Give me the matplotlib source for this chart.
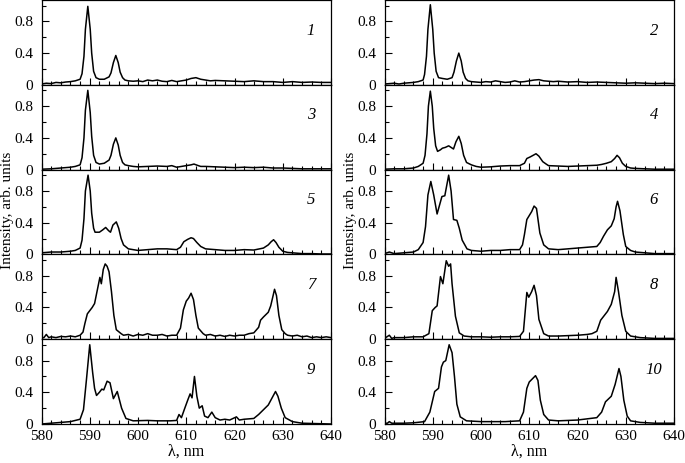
import numpy as np
import matplotlib.pyplot as plt
from matplotlib.ticker import MultipleLocator

plt.rcParams['font.family'] = ['Liberation Serif', 'DejaVu Serif']

# spectra: wavelength (nm) and intensity (arb. units)
x1 = [580, 581, 582, 583, 584, 585, 586, 587, 588, 588.4, 588.8, 589.1, 589.6, 590.1, 590.4, 590.8, 591.3, 592, 593, 594,
      594.4, 594.9, 595.4, 595.9, 596.3, 596.8, 597.3, 598, 599, 600, 601, 602, 603, 604, 605, 606, 607, 608, 609, 610, 611,
      612, 613, 614, 615, 616, 618, 620, 622, 624, 626, 628, 630, 632, 634, 636, 638, 640]
y1 = [0.01, 0.02, 0.015, 0.03, 0.025, 0.035, 0.04, 0.05, 0.07, 0.14, 0.36, 0.7, 0.99, 0.7, 0.4, 0.17, 0.09, 0.07, 0.07, 0.10,
      0.15, 0.28, 0.37, 0.28, 0.16, 0.09, 0.06, 0.05, 0.045, 0.05, 0.04, 0.06, 0.05, 0.06, 0.045, 0.04, 0.055, 0.04, 0.05, 0.06,
      0.08, 0.09, 0.07, 0.06, 0.05, 0.055, 0.05, 0.045, 0.04, 0.05, 0.04, 0.04, 0.03, 0.04, 0.03, 0.035, 0.03, 0.03]

x2 = [580, 581, 582, 583, 584, 585, 586, 587, 588, 588.3, 588.7, 589.0, 589.5, 590.0, 590.3, 590.7, 591.2, 592, 593, 594,
      594.4, 594.9, 595.4, 595.9, 596.3, 596.8, 597.3, 598, 599, 600, 601, 602, 603, 604, 605, 606, 607, 608, 609, 610, 611,
      612, 613, 614, 615, 616, 618, 620, 622, 624, 626, 628, 630, 632, 634, 636, 638, 640]
y2 = [0.01, 0.015, 0.02, 0.01, 0.02, 0.025, 0.03, 0.04, 0.06, 0.13, 0.36, 0.7, 1.01, 0.7, 0.4, 0.17, 0.09, 0.08, 0.07, 0.09,
      0.16, 0.30, 0.40, 0.30, 0.16, 0.08, 0.05, 0.04, 0.035, 0.03, 0.04, 0.035, 0.05, 0.04, 0.03, 0.035, 0.05, 0.035, 0.04, 0.05,
      0.06, 0.065, 0.05, 0.045, 0.04, 0.045, 0.035, 0.04, 0.03, 0.035, 0.03, 0.025, 0.02, 0.025, 0.02, 0.015, 0.02, 0.015]

x3 = [580, 582, 584, 586, 587, 588, 588.4, 588.8, 589.1, 589.6, 590.1, 590.4, 590.8, 591.3, 592, 593, 594,
      594.4, 594.9, 595.4, 595.9, 596.3, 596.8, 597.3, 598, 599, 600, 602, 604, 606, 607, 608, 609, 610, 611, 611.6, 612.5,
      613, 614, 616, 618, 620, 622, 624, 626, 628, 630, 632, 634, 636, 638, 640]
y3 = [0.005, 0.01, 0.02, 0.03, 0.04, 0.06, 0.15, 0.4, 0.75, 1.0, 0.72, 0.42, 0.18, 0.09, 0.07, 0.08, 0.12,
      0.18, 0.32, 0.40, 0.31, 0.18, 0.09, 0.06, 0.05, 0.04, 0.035, 0.04, 0.045, 0.04, 0.05, 0.03, 0.04, 0.05, 0.06, 0.07, 0.05,
      0.04, 0.04, 0.035, 0.03, 0.025, 0.03, 0.025, 0.03, 0.02, 0.02, 0.015, 0.01, 0.01, 0.01, 0.01]

x4 = [580, 582, 584, 586, 587, 588, 588.4, 588.8, 589.1, 589.5, 589.9, 590.2, 590.6, 591, 591.6, 592, 592.6, 593.3, 593.8,
      594.3, 594.8, 595.4, 595.9, 596.4, 597, 598, 599, 600, 602, 604, 606, 608, 609, 609.5, 610.2, 610.8, 611.4, 612, 612.8,
      613.5, 614, 616, 618, 620, 622, 624, 625, 626, 627, 627.7, 628.2, 628.7, 629.3, 630, 631, 632, 634, 636, 638, 640]
y4 = [0.005, 0.01, 0.01, 0.02, 0.04, 0.08, 0.18, 0.45, 0.8, 0.99, 0.8, 0.52, 0.3, 0.23, 0.25, 0.27, 0.28, 0.30, 0.28,
      0.26, 0.35, 0.42, 0.33, 0.18, 0.09, 0.06, 0.04, 0.03, 0.035, 0.045, 0.05, 0.05, 0.08, 0.14, 0.16, 0.18, 0.20, 0.17, 0.1,
      0.07, 0.05, 0.045, 0.04, 0.045, 0.05, 0.055, 0.065, 0.08, 0.1, 0.14, 0.18, 0.15, 0.08, 0.04, 0.02, 0.015, 0.01, 0.005,
      0.005, 0.005]

x5 = [580, 582, 584, 586, 587, 588, 588.4, 588.8, 589.1, 589.65, 590.1, 590.4, 590.8, 591.1, 592, 592.7, 593.3, 593.9, 594.3,
      594.8, 595.5, 596.0, 596.5, 597, 598, 600, 602, 604, 606, 608, 608.8, 609.5, 610.3, 611, 611.5, 612.2, 613, 614, 616,
      618, 620, 622, 624, 626, 627, 627.6, 628.1, 628.6, 629.2, 630, 631, 632, 634, 636, 638, 640]
y5 = [0.02, 0.03, 0.03, 0.04, 0.05, 0.08, 0.18, 0.45, 0.8, 1.0, 0.8, 0.52, 0.33, 0.28, 0.28, 0.31, 0.34, 0.30, 0.28,
      0.37, 0.41, 0.33, 0.2, 0.12, 0.07, 0.05, 0.06, 0.07, 0.07, 0.06, 0.09, 0.16, 0.19, 0.21, 0.20, 0.15, 0.10, 0.07, 0.06,
      0.05, 0.05, 0.06, 0.055, 0.08, 0.12, 0.16, 0.185, 0.15, 0.09, 0.04, 0.025, 0.02, 0.01, 0.01, 0.005, 0.005]

x6 = [580, 581, 582, 584, 586, 587, 588, 588.5, 589, 589.6, 590.2, 590.9, 591.4, 591.9, 592.5, 593.3, 593.8, 594.3,
      595.0, 595.5, 596.1, 597.1, 598, 600, 602, 604, 606, 608, 608.6, 609.0, 609.5, 610, 610.5, 611, 611.5, 612.2, 613,
      614, 616, 618, 620, 622, 624, 624.7, 625.4, 626.2, 627, 627.6, 628.0, 628.3, 628.8, 629.5, 630, 631, 632, 634, 636,
      638, 640]
y6 = [0.01, 0.03, 0.01, 0.02, 0.03, 0.06, 0.15, 0.35, 0.75, 0.92, 0.75, 0.51, 0.62, 0.73, 0.74, 1.0, 0.8, 0.44,
      0.43, 0.33, 0.18, 0.07, 0.05, 0.04, 0.05, 0.05, 0.06, 0.06, 0.12, 0.25, 0.44, 0.49, 0.54, 0.61, 0.58, 0.27, 0.12,
      0.07, 0.06, 0.07, 0.08, 0.09, 0.10, 0.15, 0.23, 0.31, 0.36, 0.45, 0.6, 0.67, 0.55, 0.25, 0.1, 0.05, 0.03, 0.02, 0.01,
      0.01, 0.01]

x7 = [580, 580.5, 581, 581.5, 582, 583, 584, 585, 586, 587, 588, 588.6, 589, 589.5, 590.0, 590.5, 591, 591.5, 592.1, 592.4,
      592.8, 593.2, 593.6, 594, 594.5, 595, 595.5, 596.5, 597, 598, 599, 600, 601, 602, 603, 604, 605, 606, 607, 608, 608.8,
      609.4, 610, 610.5, 611, 611.5, 612, 612.5, 613.5, 614, 615, 616, 617, 618, 619, 620, 621, 622, 623, 624, 625, 625.4,
      626, 627, 627.5, 628, 628.3, 628.7, 629.2, 629.8, 630.5, 631, 632, 633, 634, 635, 636, 637, 638, 639, 640]
y7 = [0.02, 0.02, 0.06, 0.02, 0.03, 0.02, 0.035, 0.03, 0.04, 0.03, 0.05, 0.09, 0.2, 0.32, 0.36, 0.4, 0.45, 0.6, 0.78, 0.7,
      0.88, 0.95, 0.92, 0.85, 0.6, 0.3, 0.12, 0.07, 0.05, 0.06, 0.04, 0.06, 0.05, 0.07, 0.05, 0.05, 0.06, 0.04, 0.05, 0.05,
      0.14, 0.37, 0.48, 0.52, 0.58, 0.5, 0.3, 0.14, 0.07, 0.05, 0.06, 0.04, 0.05, 0.035, 0.05, 0.04, 0.05, 0.05, 0.07, 0.08,
      0.15, 0.24, 0.28, 0.34, 0.42, 0.55, 0.63, 0.55, 0.3, 0.12, 0.07, 0.05, 0.04, 0.05, 0.03, 0.04, 0.02, 0.03, 0.02, 0.03,
      0.02]

x8 = [580, 581, 581.5, 582, 584, 586, 588, 589.2, 589.9, 590.5, 590.9, 591.6, 592.1, 592.8, 593.3, 593.7, 594.0, 594.7,
      595.5, 596.5, 598, 600, 602, 604, 606, 608, 608.8, 609.5, 609.9, 610.5, 611, 611.5, 612, 613, 614, 616, 618, 620,
      622, 623, 624, 624.8, 626.2, 627, 627.7, 628, 628.5, 629.2, 630, 631, 633, 636, 640]
y8 = [0.01, 0.05, 0.01, 0.02, 0.02, 0.03, 0.03, 0.07, 0.36, 0.40, 0.42, 0.79, 0.70, 0.99, 0.92, 0.95, 0.7, 0.29,
      0.08, 0.04, 0.03, 0.03, 0.025, 0.03, 0.03, 0.035, 0.1, 0.59, 0.53, 0.6, 0.68, 0.55, 0.25, 0.07, 0.04, 0.04, 0.045,
      0.05, 0.06, 0.07, 0.10, 0.24, 0.35, 0.44, 0.6, 0.78, 0.6, 0.3, 0.1, 0.04, 0.02, 0.01, 0.01]

x9 = [580, 582, 584, 586, 588, 588.7, 589.3, 590.0, 590.6, 591, 591.4, 592, 592.5, 592.9, 593.6, 594.2, 594.9, 595.7,
      596.6, 597.5, 599, 602, 604, 606.7, 608, 608.5, 609, 609.7, 610.3, 610.8, 611.2, 611.7, 612.2, 612.7, 613.3, 613.8,
      614.5, 615.3, 616, 617, 618, 619, 620.4, 621, 622, 624, 625, 626, 627, 628.5, 629, 629.7, 630.5, 632, 634, 637, 640]
y9 = [0.0, 0.01, 0.02, 0.03, 0.06, 0.18, 0.55, 1.0, 0.65, 0.45, 0.36, 0.40, 0.44, 0.43, 0.54, 0.52, 0.32, 0.41,
      0.2, 0.07, 0.04, 0.045, 0.04, 0.04, 0.045, 0.12, 0.08, 0.2, 0.3, 0.38, 0.33, 0.6, 0.35, 0.2, 0.23, 0.1, 0.08,
      0.15, 0.08, 0.05, 0.06, 0.05, 0.09, 0.05, 0.06, 0.07, 0.12, 0.18, 0.24, 0.41, 0.35, 0.2, 0.08, 0.03, 0.01, 0.005, 0.0]

x10 = [580, 580.6, 581, 581.5, 582, 584, 586, 588.3, 589.4, 590.4, 591.2, 591.8, 592.2, 592.7, 593.4, 594, 594.5, 595,
       595.7, 597, 600, 605, 608, 608.8, 609.5, 610, 611.3, 611.8, 612.3, 613, 614, 616, 620, 624, 625, 625.8, 627, 627.8,
       628.6, 629, 629.6, 630.3, 631, 633, 636, 640]
y10 = [0.01, 0.01, 0.03, 0.01, 0.01, 0.01, 0.015, 0.03, 0.15, 0.41, 0.45, 0.72, 0.78, 0.80, 1.0, 0.9, 0.6, 0.25,
       0.09, 0.04, 0.03, 0.03, 0.04, 0.15, 0.45, 0.53, 0.61, 0.55, 0.3, 0.12, 0.05, 0.04, 0.05, 0.08, 0.15, 0.28, 0.35, 0.5,
       0.70, 0.6, 0.3, 0.1, 0.04, 0.02, 0.01, 0.01]

spectra = [(x1, y1), (x2, y2), (x3, y3), (x4, y4), (x5, y5),
           (x6, y6), (x7, y7), (x8, y8), (x9, y9), (x10, y10)]
labels = ["1", "2", "3", "4", "5", "6", "7", "8", "9", "10"]

fig = plt.figure(figsize=(6.85, 4.63), dpi=100)

W, H = 685, 463
col_left = [41.5, 384.5]
col_w = 289.5
row_h = 84.8
bottom_px = 424

for i, (xs, ys) in enumerate(spectra):
    row, col = i // 2, i % 2
    top = bottom_px - (5 - row) * row_h
    ax = fig.add_axes([col_left[col] / W, 1 - (top + row_h) / H, col_w / W, row_h / H])
    ax.plot(xs, ys, color='black', lw=1.1)
    ax.set_xlim(580, 640)
    ax.set_ylim(0, 1.07)
    ax.xaxis.set_major_locator(MultipleLocator(10))
    ax.xaxis.set_minor_locator(MultipleLocator(2))
    ax.set_yticks([0, 0.4, 0.8])
    ax.set_yticklabels(["0", "0.4", "0.8"])
    ax.yaxis.set_minor_locator(MultipleLocator(0.2))
    ax.tick_params(which='both', direction='in', labelsize=11, width=0.8)
    ax.tick_params(axis='y', pad=6)
    ax.tick_params(axis='x', pad=4)
    ax.tick_params(which='major', length=5)
    ax.tick_params(which='minor', length=3)
    if row < 4:
        ax.tick_params(axis='x', labelbottom=False)
    for s in ax.spines.values():
        s.set_linewidth(0.9)
    ax.text(0.93, 0.64, labels[i], transform=ax.transAxes, ha='center', va='center',
            fontsize=12, style='italic')

for col in range(2):
    fig.text((col_left[col] - 40.5) / W, 1 - 210 / H, "Intensity, arb. units", rotation=90,
             ha='left', va='center', fontsize=11)
    fig.text((col_left[col] + col_w / 2) / W, 1 - 452 / H, "λ, nm", ha='center', va='center', fontsize=11.5)

fig.savefig("out.png", dpi=100)
